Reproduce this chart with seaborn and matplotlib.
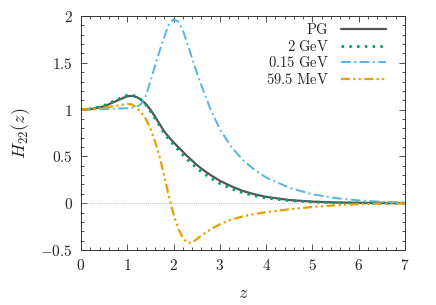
import numpy as np
import pandas as pd
import matplotlib
matplotlib.use('Agg')
import matplotlib.pyplot as plt
from matplotlib.ticker import MultipleLocator, FuncFormatter
import seaborn as sns

# values
z = [0, 0.25, 0.5, 0.75, 1.0, 1.1, 1.2, 1.3, 1.4, 1.5, 1.6, 1.7, 1.8, 1.9, 2.0,
     2.1, 2.2, 2.3, 2.4, 2.5, 2.6, 2.8, 3.0, 3.25, 3.5, 3.75, 4.0, 4.5, 5.0,
     5.5, 6.0, 6.5, 7.0]

h_pg = [1.0, 1.008, 1.035, 1.09, 1.143, 1.146, 1.135, 1.105, 1.06, 1.0, 0.925,
        0.845, 0.765, 0.705, 0.65, 0.60, 0.55, 0.50, 0.455, 0.41, 0.37, 0.30,
        0.24, 0.18, 0.13, 0.095, 0.068, 0.034, 0.017, 0.008, 0.004, 0.002, 0.001]

h_2gev = [1.0, 1.01, 1.045, 1.10, 1.155, 1.155, 1.14, 1.105, 1.05, 0.98, 0.905,
          0.825, 0.745, 0.68, 0.625, 0.57, 0.515, 0.465, 0.42, 0.375, 0.335,
          0.27, 0.21, 0.155, 0.11, 0.08, 0.055, 0.028, 0.013, 0.006, 0.003,
          0.001, 0.0]

h_015gev = [1.0, 1.002, 1.005, 1.01, 1.015, 1.02, 1.03, 1.06, 1.15, 1.30, 1.47,
            1.63, 1.78, 1.91, 1.968, 1.94, 1.85, 1.70, 1.55, 1.40, 1.26, 1.0,
            0.79, 0.60, 0.46, 0.355, 0.275, 0.165, 0.095, 0.055, 0.03, 0.015,
            0.008]

h_595mev = [1.0, 1.005, 1.02, 1.04, 1.06, 1.055, 1.02, 0.97, 0.90, 0.80, 0.66,
            0.49, 0.29, 0.07, -0.12, -0.27, -0.37, -0.425, -0.42, -0.385,
            -0.345, -0.28, -0.225, -0.175, -0.14, -0.115, -0.095, -0.065,
            -0.04, -0.022, -0.01, -0.004, -0.001]

labels = ['PG', '2 GeV', '0.15 GeV', '59.5 MeV']
series = [h_pg, h_2gev, h_015gev, h_595mev]

df = pd.concat([pd.DataFrame({'z': z, 'H': h, 'curve': lab})
                for lab, h in zip(labels, series)], ignore_index=True)

sns.set_style('ticks')
plt.rcParams['mathtext.fontset'] = 'cm'
plt.rcParams['font.family'] = ['DejaVu Serif']

palette = {'PG': '#555555', '2 GeV': '#009E73',
           '0.15 GeV': '#56B4E9', '59.5 MeV': '#E69F00'}
dashes = {'PG': '', '2 GeV': (0.9, 1.9),
          '0.15 GeV': (5, 1.8, 1, 1.8), '59.5 MeV': (4, 1.5, 1, 1.5, 1, 1.5)}
widths = {'PG': 1.6, '2 GeV': 2.0, '0.15 GeV': 1.4, '59.5 MeV': 1.6}

fig = plt.figure(figsize=(4.36, 3.05), dpi=100)
ax = fig.add_axes([0.1858, 0.1803, 0.7431, 0.7672])

ax.axhline(0, color='#aaaaaa', lw=0.6, ls=(0, (1, 1.5)), zorder=1)

for lab in labels:
    sns.lineplot(data=df[df['curve'] == lab], x='z', y='H', ax=ax,
                 color=palette[lab], estimator=None, sort=False,
                 legend=False, lw=widths[lab], dashes=False)
    ln = ax.lines[-1]
    if dashes[lab]:
        ln.set_dashes(dashes[lab])
    ln.set_label(r'$\mathrm{' + lab.replace(' ', r'\ ') + '}$')

ax.set_xlim(0, 7)
ax.set_ylim(-0.5, 2)
ax.xaxis.set_major_locator(MultipleLocator(1))
ax.xaxis.set_minor_locator(MultipleLocator(0.2))
ax.yaxis.set_major_locator(MultipleLocator(0.5))
ax.yaxis.set_minor_locator(MultipleLocator(0.1))
fmt = FuncFormatter(lambda v, p: f'${v:g}$')
ax.xaxis.set_major_formatter(fmt)
ax.yaxis.set_major_formatter(fmt)
ax.tick_params(which='both', direction='in', top=True, right=True,
               labelsize=11, width=0.6, color='#333333')
ax.tick_params(which='major', length=4.5, pad=6)
ax.tick_params(which='minor', length=2.2)
for s in ax.spines.values():
    s.set_linewidth(0.7)
    s.set_color('#333333')

ax.set_xlabel(r'$z$', fontsize=13, labelpad=8)
ax.set_ylabel(r'$H_{22}(z)$', fontsize=13, labelpad=6)

handles = [l for l in ax.lines if not l.get_label().startswith('_')]
ax.legend(handles=handles, loc='upper right', bbox_to_anchor=(0.941, 0.975),
          frameon=False, markerfirst=False, fontsize=10.5, handlelength=3.1,
          labelspacing=0.12, borderaxespad=0, borderpad=0, handletextpad=0.8)

fig.savefig('out.png', dpi=100)
